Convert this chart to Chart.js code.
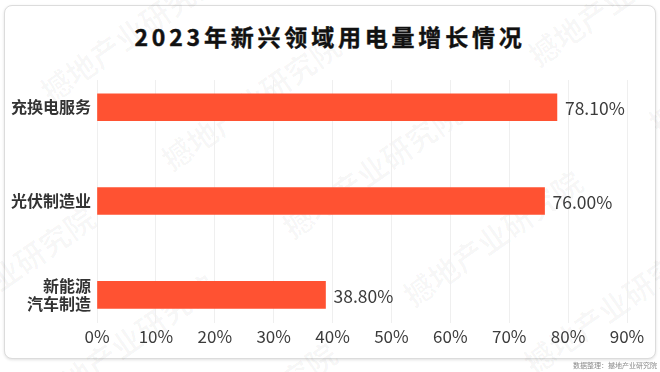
<!DOCTYPE html>
<html>
<head>
<meta charset="utf-8">
<script src="https://cdn.jsdelivr.net/npm/chart.js@4.4.1/dist/chart.umd.min.js"></script>
<style>
  body { margin: 0; background: #fff; }
  #wrap { position: relative; width: 660px; height: 372px; overflow: hidden; font-family: "Noto Sans CJK SC", "Noto Sans", sans-serif; }
  #card { position: absolute; left: 4px; top: 5px; width: 650px; height: 352px; border: 1px solid #dcdcdc; border-radius: 8px; box-shadow: 0 1px 3px rgba(0,0,0,0.12); background: #fff; }
  #wm { position: absolute; left: -200px; top: -250px; width: 1100px; height: 900px; transform: rotate(-35deg); transform-origin: 50% 50%; color: rgba(0,0,0,0.03); font-size: 30px; font-weight: 700; line-height: 125px; white-space: nowrap; }
  #title { position: absolute; left: 0; top: 19px; width: 660px; text-align: center; font-size: 23px; font-weight: 700; letter-spacing: 3.8px; color: #111; -webkit-text-stroke: 0.4px #111; }
  #chart { position: absolute; left: 0; top: 0; }
  #src { position: absolute; right: 3px; top: 360px; font-size: 7px; color: #8a8a8a; }
</style>
</head>
<body>
<div id="wrap">
  <div id="card"></div>
  <div id="wm"></div>
  <div id="title">2023年新兴领域用电量增长情况</div>
  <canvas id="chart" width="660" height="372"></canvas>
  <div id="src">数据整理：撼地产业研究院</div>
</div>
<script>
const categories = ['充换电服务', '光伏制造业', ['新能源', '汽车制造']];
const growth = [78.10, 76.00, 38.80];
const xTicks = [0, 10, 20, 30, 40, 50, 60, 70, 80, 90];

// 背景水印
const wm = document.getElementById('wm');
let rows = '';
for (let r = 0; r < 8; r++) {
    rows += '<div style="padding-left:' + (r * 60) + 'px">' + '撼地产业研究院&emsp;&emsp;&emsp;'.repeat(6) + '</div>';
}
wm.innerHTML = rows;

// 数值标签
const valueLabels = {
    id: 'valueLabels',
    afterDatasetsDraw(chart) {
        const ctx = chart.ctx;
        const meta = chart.getDatasetMeta(0);
        ctx.save();
        ctx.font = '17.5px "Noto Sans CJK SC", "Noto Sans", sans-serif';
        ctx.fillStyle = '#3c3c3c';
        ctx.textBaseline = 'middle';
        ctx.textAlign = 'left';
        meta.data.forEach((bar, i) => {
            ctx.fillText(growth[i].toFixed(2) + '%', bar.x + 8, bar.y + 1);
        });
        ctx.restore();
    }
};

new Chart(document.getElementById('chart'), {
    type: 'bar',
    data: {
        datasets: [{
            data: growth.map((v, i) => ({ x: v, y: i })),
            backgroundColor: '#ff5232',
            barThickness: 27,
            clip: false
        }]
    },
    options: {
        indexAxis: 'y',
        responsive: false,
        animation: false,
        layout: { padding: { left: 0, right: 33, top: 80, bottom: 19 } },
        plugins: { legend: { display: false }, tooltip: { enabled: false } },
        scales: {
            x: {
                min: 0,
                max: 90,
                afterBuildTicks: axis => { axis.ticks = xTicks.map(v => ({ value: v })); },
                afterFit: axis => { axis.height = 30; },
                grid: { color: '#efefef', drawTicks: false },
                border: { display: false },
                ticks: {
                    padding: 3,
                    color: '#3c3c3c',
                    font: { size: 17, family: '"Noto Sans CJK SC", "Noto Sans", sans-serif' },
                    callback: v => v + '%'
                }
            },
            y: {
                type: 'linear',
                reverse: true,
                offset: false,
                min: -0.29,
                max: 2.3,
                afterBuildTicks: axis => { axis.ticks = categories.map((c, i) => ({ value: i })); },
                afterFit: axis => { axis.width = 97; },
                grid: { display: false, drawTicks: false, offset: false },
                border: { display: false },
                ticks: {
                    padding: 6,
                    color: '#333',
                    font: { size: 16, weight: 'bold', lineHeight: 1.15, family: '"Noto Sans CJK SC", sans-serif' },
                    callback: v => categories[v]
                }
            }
        }
    },
    plugins: [valueLabels]
});
</script>
</body>
</html>
